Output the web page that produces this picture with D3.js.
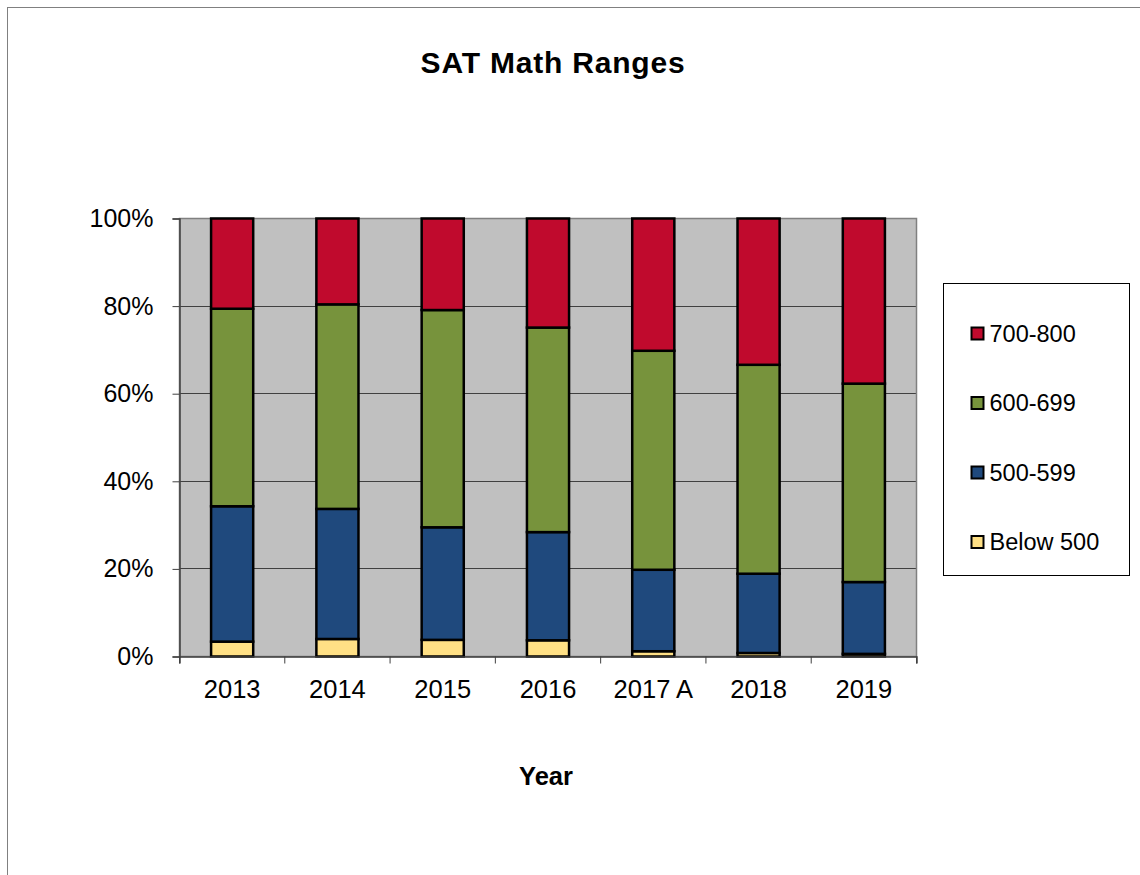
<!DOCTYPE html>
<html>
<head>
<meta charset="utf-8">
<script src="https://cdn.jsdelivr.net/npm/d3@7"></script>
<style>
  body { margin: 0; background: #fff; }
  text { font-family: "Liberation Sans", Arial, sans-serif; }
</style>
</head>
<body>
<div id="chart"></div>
<script>
var years = ["2013", "2014", "2015", "2016", "2017 A", "2018", "2019"];
var below500 = [3.4, 4.0, 3.8, 3.7, 1.2, 0.8, 0.6];
var r500 = [30.9, 29.7, 25.7, 24.7, 18.6, 18.1, 16.4];
var r600 = [45.1, 46.7, 49.6, 46.7, 50.0, 47.7, 45.3];
var r700 = [20.6, 19.6, 20.9, 24.9, 30.2, 33.4, 37.7];
var seriesNames = ["Below 500", "500-599", "600-699", "700-800"];
var yTicks = [0, 0.2, 0.4, 0.6, 0.8, 1];

var colors = ["#FFE085", "#1F497D", "#77933C", "#C00A2D"];

var outerWidth = 1140, outerHeight = 875;
var margin = { top: 218.5, left: 179.5 },
    width = 737,
    height = 438;

var table = years.map(function(y, i) {
    return { year: y, "Below 500": below500[i], "500-599": r500[i], "600-699": r600[i], "700-800": r700[i] };
});
var stacked = d3.stack().keys(seriesNames).offset(d3.stackOffsetExpand)(table);

var x = d3.scaleBand().domain(years).range([0, width]);
var y = d3.scaleLinear().domain([0, 1]).range([height, 0]);

var svg = d3.select("#chart").append("svg")
    .attr("width", outerWidth)
    .attr("height", outerHeight);

// outer chart frame
svg.append("rect")
    .attr("x", 7.5).attr("y", 7.5)
    .attr("width", 1160).attr("height", 900)
    .attr("fill", "#fff")
    .attr("stroke", "#808080");

svg.append("text")
    .attr("x", 553).attr("y", 73)
    .attr("text-anchor", "middle")
    .style("font-size", "30px")
    .style("letter-spacing", "0.8px")
    .style("font-weight", "bold")
    .text("SAT Math Ranges");

var g = svg.append("g")
    .attr("transform", "translate(" + margin.left + "," + margin.top + ")");

g.append("rect")
    .attr("width", width).attr("height", height)
    .attr("fill", "#C0C0C0");

// grid
g.selectAll(".grid")
    .data(yTicks.slice(1))
    .enter().append("line")
    .attr("x1", 0).attr("x2", width)
    .attr("y1", function(d) { return Math.round(y(d)); })
    .attr("y2", function(d) { return Math.round(y(d)); })
    .attr("stroke", "#404040")
    .attr("stroke-width", 1);

g.append("rect")
    .attr("width", width).attr("height", height)
    .attr("fill", "none")
    .attr("stroke", "#808080")
    .attr("stroke-width", 1.5);

// bars
var barW = x.bandwidth() * 0.4;
g.selectAll(".series")
    .data(stacked)
    .enter().append("g")
    .attr("fill", function(d, i) { return colors[i]; })
    .selectAll("rect")
    .data(function(d) { return d; })
    .enter().append("rect")
    .attr("x", function(d) { return x(d.data.year) + (x.bandwidth() - barW) / 2; })
    .attr("y", function(d) { return y(d[1]); })
    .attr("width", barW)
    .attr("height", function(d) { return y(d[0]) - y(d[1]); })
    .attr("stroke", "#000")
    .attr("stroke-width", 2.5);

// y axis
var yAxis = d3.axisLeft(y)
    .tickValues(yTicks)
    .tickFormat(d3.format(".0%"))
    .tickSize(7)
    .tickPadding(19);

var ya = g.append("g").call(yAxis);
ya.select(".domain").attr("stroke", "#404040").attr("stroke-width", 1.5);
ya.selectAll(".tick line").attr("stroke", "#404040");
ya.selectAll("text").style("font-size", "25px").attr("fill", "#000")
    .attr("font-family", null);

// x axis
var xAxis = d3.axisBottom(x)
    .tickSize(7)
    .tickPadding(16);
var xa = g.append("g")
    .attr("transform", "translate(0," + height + ")")
    .call(xAxis);
xa.select(".domain").attr("stroke", "#404040").attr("stroke-width", 1.5);
xa.selectAll(".tick line")
    .attr("transform", "translate(" + (-x.bandwidth() / 2) + ",0)")
    .attr("stroke", "#404040");
xa.append("line")
    .attr("x1", width).attr("x2", width)
    .attr("y1", 0).attr("y2", 7)
    .attr("stroke", "#404040");
xa.selectAll("text").style("font-size", "25.5px").attr("fill", "#000")
    .attr("font-family", null);

svg.append("text")
    .attr("x", 546).attr("y", 785)
    .attr("text-anchor", "middle")
    .style("font-size", "25.5px")
    .style("font-weight", "bold")
    .text("Year");

// legend
var legend = svg.append("g").attr("transform", "translate(943.5,283.5)");
legend.append("rect")
    .attr("width", 186).attr("height", 292)
    .attr("fill", "#fff")
    .attr("stroke", "#000");

var items = legend.selectAll(".legend")
    .data(seriesNames.slice().reverse())
    .enter().append("g")
    .attr("transform", function(d, i) { return "translate(28," + (50 + i * 69.5) + ")"; });

items.append("rect")
    .attr("x", 0).attr("y", -6)
    .attr("width", 12).attr("height", 12)
    .attr("fill", function(d) { return colors[seriesNames.indexOf(d)]; })
    .attr("stroke", "#000")
    .attr("stroke-width", 2);

items.append("text")
    .attr("x", 18)
    .attr("dy", "0.35em")
    .style("font-size", "23.5px")
    .text(function(d) { return d; });
</script>
</body>
</html>
